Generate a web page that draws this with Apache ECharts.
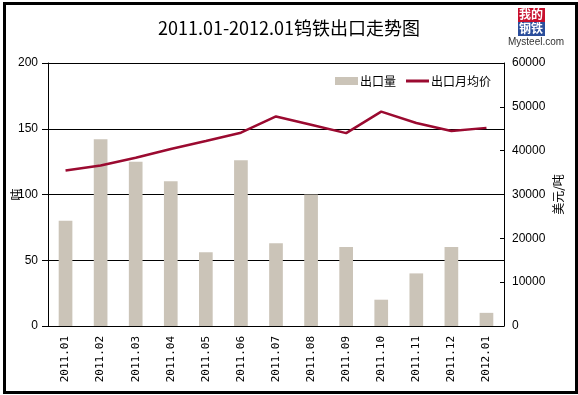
<!DOCTYPE html>
<html><head><meta charset="utf-8">
<script src="https://cdn.jsdelivr.net/npm/echarts@6/dist/echarts.min.js"></script>
<style>html,body{margin:0;padding:0;background:#fff}#c{width:578px;height:395px}</style>
</head><body><div id="c"></div>
<script>
const categories = ['2011.01','2011.02','2011.03','2011.04','2011.05','2011.06','2011.07','2011.08','2011.09','2011.10','2011.11','2011.12','2012.01'];
const exportVolume = [80, 142, 125, 110, 56, 126, 63, 100, 60, 20, 40, 60, 10];
const exportPrice = [35500, 36600, 38400, 40400, 42200, 44100, 47800, 45900, 44000, 48900, 46300, 44500, 45200];
const leftTicks = {min: 0, max: 200, interval: 50};
const rightTicks = {min: 0, max: 60000, interval: 10000};

const chart = echarts.init(document.getElementById('c'));
const cjk = "'Noto Sans CJK SC', sans-serif";
chart.setOption({
  animation: false,
  backgroundColor: '#fff',
  title: {
    text: '2011.01-2012.01钨铁出口走势图',
    left: 'center', top: 14,
    textStyle: {fontFamily: cjk, fontSize: 18, fontWeight: 'normal', color: '#000'}
  },
  legend: [{
    left: 330, top: 70, itemWidth: 23, itemHeight: 8,
    textStyle: {fontFamily: cjk, fontSize: 12, color: '#000', padding: [0,0,0,-3]},
    data: [{name: '出口量', icon: 'rect'}]
  }, {
    left: 401, top: 70, itemWidth: 23, itemHeight: 3,
    textStyle: {fontFamily: cjk, fontSize: 12, color: '#000', padding: [0,0,0,-3]},
    data: [{name: '出口月均价', icon: 'rect'}]
  }],
  grid: {left: 48, right: 74, top: 63, bottom: 69, containLabel: false, outerBoundsMode: 'none'},
  xAxis: {
    type: 'category', data: categories,
    axisLine: {lineStyle: {color: '#000', width: 1}},
    axisTick: {inside: true, length: 4, lineStyle: {color: '#000'}},
    axisLabel: {rotate: 90, fontFamily: "'DejaVu Sans Mono', monospace", fontSize: 11, color: '#000', margin: 10}
  },
  yAxis: [{
    type: 'value', min: leftTicks.min, max: leftTicks.max, interval: leftTicks.interval,
    name: '吨', nameLocation: 'middle', nameGap: 26, nameRotate: 90, nameMoveOverlap: false,
    nameTextStyle: {fontFamily: cjk, fontSize: 12, color: '#000'},
    axisLine: {show: true, lineStyle: {color: '#000'}},
    axisTick: {show: true, length: 6, lineStyle: {color: '#000'}},
    axisLabel: {fontFamily: 'Liberation Sans, Arial, sans-serif', fontSize: 12, color: '#000', margin: 10},
    splitLine: {show: true, lineStyle: {color: '#000', width: 1}}
  }, {
    type: 'value', min: rightTicks.min, max: rightTicks.max, interval: rightTicks.interval,
    name: '美元/吨', nameLocation: 'middle', nameGap: 48, nameRotate: 90, nameMoveOverlap: false,
    nameTextStyle: {fontFamily: cjk, fontSize: 12, color: '#000'},
    axisLine: {show: true, lineStyle: {color: '#000'}},
    axisTick: {show: true, inside: true, length: 4, lineStyle: {color: '#000'}},
    axisLabel: {fontFamily: 'Liberation Sans, Arial, sans-serif', fontSize: 12, color: '#000', margin: 8, formatter: v => String(v)},
    splitLine: {show: false}
  }],
  series: [{
    name: '出口量', type: 'bar', data: exportVolume, yAxisIndex: 0,
    barWidth: '39%', itemStyle: {color: '#cbc4b8'}
  }, {
    name: '出口月均价', type: 'line', data: exportPrice, yAxisIndex: 1,
    symbol: 'none', lineStyle: {color: '#9b0a30', width: 2.5}, itemStyle: {color: '#9b0a30'}
  }],
  graphic: [
    {type: 'rect', left: 2, top: 1, shape: {width: 572, height: 389}, style: {fill: 'none', stroke: '#000', lineWidth: 3}, z: 100},
    {type: 'rect', left: 518, top: 8, shape: {width: 27, height: 14}, style: {fill: '#c8102e'}},
    {type: 'text', left: 519, top: 8, style: {text: '我的', fill: '#fff', font: "bold 12px 'Noto Sans CJK SC'"}},
    {type: 'rect', left: 518, top: 22, shape: {width: 27, height: 14}, style: {fill: '#2a4d9b'}},
    {type: 'text', left: 519, top: 22, style: {text: '钢铁', fill: '#fff', font: "bold 12px 'Noto Sans CJK SC'"}},
    {type: 'text', left: 508, top: 37, style: {text: 'Mysteel.com', fill: '#333', font: "10px 'Liberation Sans Narrow', 'Liberation Sans', sans-serif"}}
  ]
});
</script></body></html>
